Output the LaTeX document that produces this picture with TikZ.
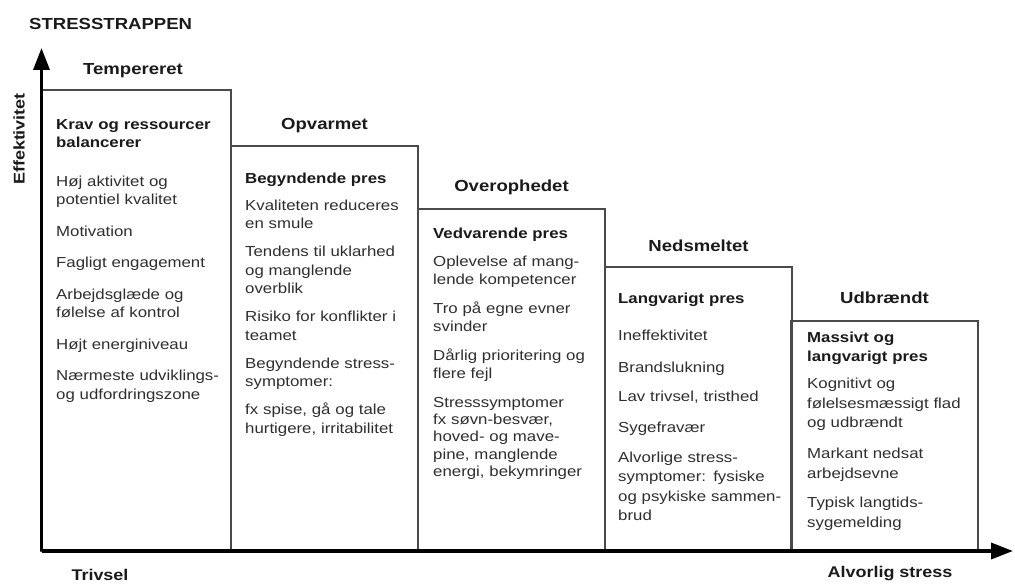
\documentclass[tikz,border=0pt]{standalone}
\usepackage{fontspec}
\setmainfont{Liberation Sans}[FakeStretch=1.16]
\usetikzlibrary{arrows.meta,calc}
\definecolor{bodytext}{HTML}{2E2E2E}
\definecolor{headtext}{HTML}{1A1A1A}
\definecolor{boxline}{HTML}{4A4A4A}
\begin{document}
\begin{tikzpicture}[x=1pt,y=-1pt,
  stepbox/.style={draw=boxline, line width=1.2pt, inner sep=0pt, outer sep=0pt, anchor=north west},
  boxtitle/.style={font=\fontsize{16}{18}\selectfont\bfseries, text=headtext, anchor=base, inner sep=0pt},
  boxtext/.style={font=\fontsize{14.5}{18.5}\selectfont, text=bodytext, anchor=base west, inner sep=0pt, align=left, text width=178pt},
  boxtextwide/.style={boxtext, font=\fontsize{14.5}{19.5}\selectfont},
  axislabel/.style={font=\fontsize{15.5}{18}\selectfont\bfseries, text=headtext, inner sep=0pt},
  axis/.style={line width=3.5pt, -{Triangle[length=22pt,width=16pt]}}]
\useasboundingbox (0,0) rectangle (1015,585);

% steps
\node[stepbox, minimum width=190pt, minimum height=461pt] (b1) at (41,90) {};
\node[stepbox, minimum width=187pt, minimum height=405pt] (b2) at (231,146) {};
\node[stepbox, minimum width=187pt, minimum height=342pt] (b3) at (418,209) {};
\node[stepbox, minimum width=187pt, minimum height=284pt] (b4) at (605,267) {};
\node[stepbox, minimum width=187pt, minimum height=230pt] (b5) at (791,321) {};

% titles
\node[boxtitle] (t1) at ($(b1.north)+(-3,-15.5)$) {Tempereret};
\node[boxtitle] (t2) at ($(b2.north)+(0,-16)$) {Opvarmet};
\node[boxtitle] (t3) at ($(b3.north)+(0,-17)$) {Overophedet};
\node[boxtitle] (t4) at ($(b4.north)+(0,-15.5)$) {Nedsmeltet};
\node[boxtitle] (t5) at ($(b5.north)+(0,-17)$) {Udbrændt};

% texts
\node[boxtext] (x1) at (56,129.3) {%
\textbf{\color{headtext}Krav og ressourcer}\\ \textbf{\color{headtext}balancerer}\\[20pt]
Høj aktivitet og\\ potentiel kvalitet\\[13pt]
Motivation\\[13pt]
Fagligt engagement\\[13pt]
Arbejdsglæde og\\ følelse af kontrol\\[13pt]
Højt energiniveau\\[13pt]
Nærmeste udviklings-\\ og udfordringszone};

\node[boxtext] (x2) at (245,184) {%
\textbf{\color{headtext}Begyndende pres}\\[8pt]
Kvaliteten reduceres\\ en smule\\[9.5pt]
Tendens til uklarhed\\ og manglende\\ overblik\\[9.5pt]
Risiko for konflikter i\\ teamet\\[9.5pt]
Begyndende stress-\\ symptomer:\\[9.5pt]
fx spise, gå og tale\\ hurtigere, irritabilitet};

\node[boxtext] (x3) at (433,239) {%
\textbf{\color{headtext}Vedvarende pres}\\[9pt]
Oplevelse af mang-\\ lende kompetencer\\[10pt]
Tro på egne evner\\ svinder\\[10pt]
Dårlig prioritering og\\ flere fejl\\[10pt]
Stresssymptomer\\[-1.3pt] fx søvn-besvær,\\[-1.3pt] hoved- og mave-\\[-1.3pt] pine, manglende\\[-1.3pt] energi, bekymringer};

\node[boxtextwide] (x4) at (618,304) {%
\textbf{\color{headtext}Langvarigt pres}\\[17pt]
Ineffektivitet\\[12.5pt]
Brandslukning\\[9.5pt]
Lav trivsel, tristhed\\[11.5pt]
Sygefravær\\[10.5pt]
Alvorlige stress-\\ symptomer: fysiske\\ og psykiske sammen-\\ brud};

\node[boxtextwide] (x5) at (807,343) {%
\textbf{\color{headtext}Massivt og}\\[-1pt] \textbf{\color{headtext}langvarigt pres}\\[8pt]
Kognitivt og\\ følelsesmæssigt flad\\ og udbrændt\\[11.5pt]
Markant nedsat\\ arbejdsevne\\[10pt]
Typisk langtids-\\ sygemelding};

% axes
\coordinate (O) at (41.5,551);
\coordinate (ytip) at (41.5,48);
\coordinate (xtip) at (1013,551);
\draw[axis] (O) -- (ytip);
\draw[axis] (O) -- (xtip);

% labels
\node[axislabel, anchor=base west, font=\fontsize{16}{18}\selectfont\bfseries] (title) at (29,29.5) {STRESSTRAPPEN};
\node[axislabel, rotate=90] (ylab) at (19,139) {Effektivitet};
\node[axislabel] (xlab1) at (100,575) {Trivsel};
\node[axislabel] (xlab2) at (890,574) {Alvorlig stress};
\end{tikzpicture}
\end{document}
